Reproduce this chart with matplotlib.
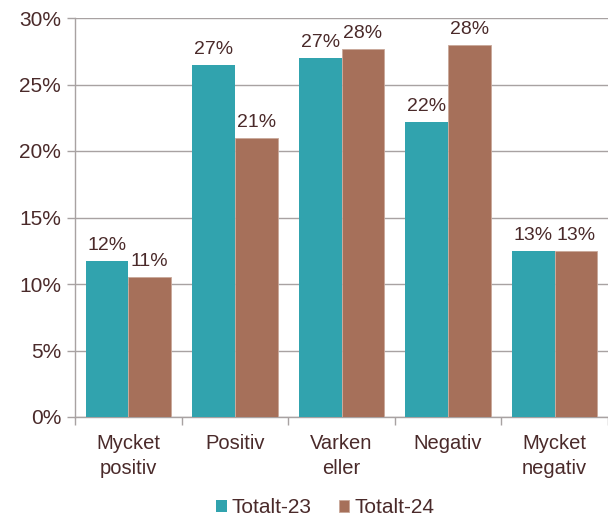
import matplotlib.pyplot as plt
import numpy as np

plt.rcParams['font.family'] = ['Liberation Sans', 'DejaVu Sans']

categories = ['Mycket\npositiv', 'Positiv', 'Varken\neller', 'Negativ', 'Mycket\nnegativ']
totalt_23 = [11.7, 26.5, 27.0, 22.2, 12.5]
totalt_24 = [10.5, 21.0, 27.7, 28.0, 12.5]
labels_23 = ['12%', '27%', '27%', '22%', '13%']
labels_24 = ['11%', '21%', '28%', '28%', '13%']
yticks = [0, 5, 10, 15, 20, 25, 30]

teal = '#31a3ae'
brown = '#a6705a'
text_col = '#4a2a2a'
grid_col = '#a8a2a2'

fig = plt.figure(figsize=(6.08, 5.23), dpi=100)
ax = fig.add_axes([75 / 608, 106 / 523, 533 / 608, 399 / 523])

x = np.arange(len(categories))
w = 0.4
b1 = ax.bar(x - w / 2, totalt_23, w, color=teal, label='Totalt-23', zorder=3)
b2 = ax.bar(x + w / 2, totalt_24, w, color=brown, label='Totalt-24', zorder=3,
            edgecolor='#c9a89a', linewidth=0.6)

# data labels above bars
for bars, labs in [(b1, labels_23), (b2, labels_24)]:
    for rect, lab in zip(bars, labs):
        ax.annotate(lab, (rect.get_x() + rect.get_width() / 2, rect.get_height()),
                    xytext=(0, 5), textcoords='offset points', ha='center', va='bottom',
                    fontsize=14, color=text_col)

ax.set_ylim(0, 30)
ax.set_xlim(-0.5, 4.43)
ax.set_yticks(yticks)
ax.set_yticklabels([f'{t}%' for t in yticks])
ax.yaxis.grid(True, color=grid_col, linewidth=1, zorder=0)

ax.set_xticks(np.arange(-0.5, 5, 1.0))
ax.set_xticklabels([])
ax.set_xticks(x, minor=True)
ax.set_xticklabels(categories, minor=True, fontsize=14.5, color=text_col, linespacing=1.45)
ax.tick_params(axis='x', which='minor', length=0, pad=12)
ax.tick_params(axis='x', which='major', length=6, color=grid_col, width=1)
ax.tick_params(axis='y', length=6, color=grid_col, width=1, labelsize=15,
               labelcolor=text_col, pad=4)

for s in ['top', 'right']:
    ax.spines[s].set_visible(False)
for s in ['left', 'bottom']:
    ax.spines[s].set_color(grid_col)
    ax.spines[s].set_linewidth(1)

fig.legend(loc='lower center', bbox_to_anchor=(0.535, -0.025), ncol=2, frameon=False,
           fontsize=15, handlelength=0.5, handleheight=0.5, handletextpad=0.25,
           columnspacing=1.3, labelcolor=text_col)

fig.savefig('out.png', dpi=100)
